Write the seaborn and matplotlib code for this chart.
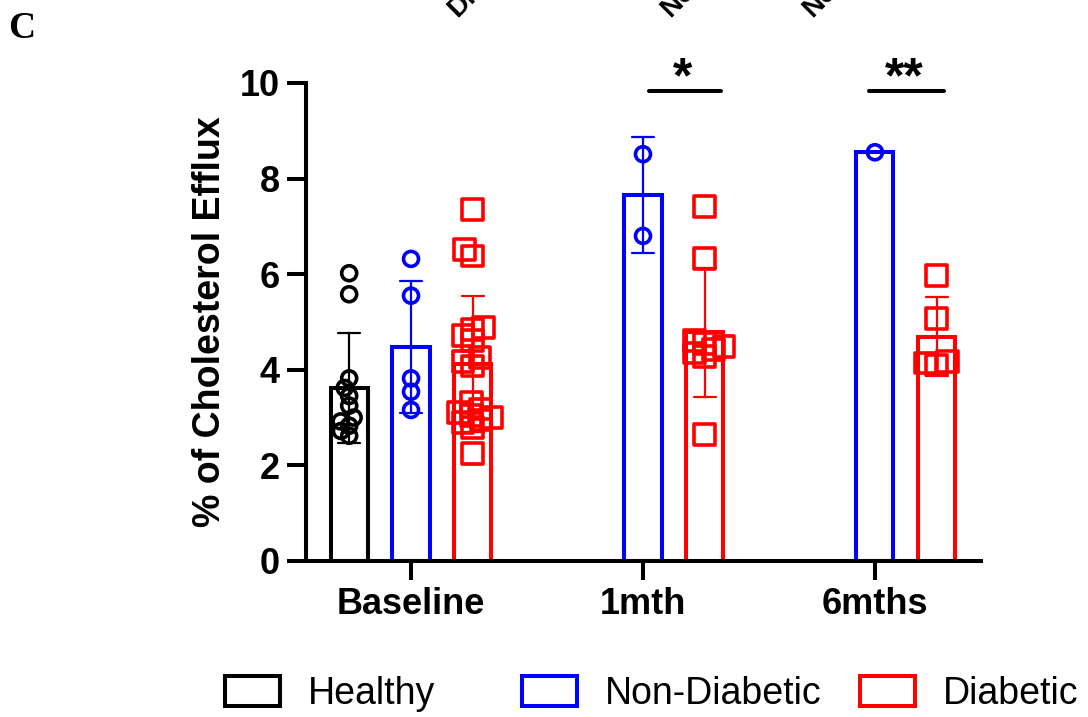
import matplotlib
matplotlib.use('Agg')
from matplotlib import pyplot as plt
from matplotlib.patches import Rectangle
from matplotlib.markers import MarkerStyle
import seaborn as sns
import pandas as pd

timepoints = ['Baseline', '1mth', '6mths']
groups = ['Healthy', 'Non-Diabetic', 'Diabetic']
colors = ['#000000', '#0000ff', '#ff0000']

# % cholesterol efflux per subject
healthy_baseline = [6.02, 5.58, 3.82, 3.62, 3.45, 3.25, 3.00, 2.92, 2.83, 2.72, 2.62]
nondiab_baseline = [6.32, 5.55, 3.82, 3.54, 3.16]
nondiab_1mth = [8.51, 6.80]
nondiab_6mths = [8.55]
diab_baseline = [7.36, 6.52, 6.38, 4.88, 4.85, 4.72, 4.62, 4.25, 4.18, 4.08,
                 3.32, 3.18, 3.10, 3.05, 3.00, 2.95, 2.90, 2.80, 2.25]
diab_1mth = [7.42, 6.32, 4.62, 4.55, 4.48, 4.42, 4.35, 4.28, 2.65]
diab_6mths = [5.98, 5.08, 4.18, 4.14, 4.10]

significance = [('1mth', '*'), ('6mths', '**')]
top_labels = ['Diabetic', 'Non-Diabetic', 'Non-Diabetic']


def make_frame():
    rows = []
    for group, time, vals in [
        ('Healthy', 'Baseline', healthy_baseline),
        ('Non-Diabetic', 'Baseline', nondiab_baseline),
        ('Non-Diabetic', '1mth', nondiab_1mth),
        ('Non-Diabetic', '6mths', nondiab_6mths),
        ('Diabetic', 'Baseline', diab_baseline),
        ('Diabetic', '1mth', diab_1mth),
        ('Diabetic', '6mths', diab_6mths),
    ]:
        for v in vals:
            rows.append({'group': group, 'time': time, 'efflux': v})
    return pd.DataFrame(rows)


def open_markers(colls, marker, scale, lw):
    # swarm is laid out with small markers so points overlap like in Prism,
    # then the marker path itself is scaled up
    m = MarkerStyle(marker)
    path = m.get_path().transformed(m.get_transform().scale(scale))
    for coll in colls:
        fc = coll.get_facecolor()
        coll.set_paths([path])
        coll.set_edgecolor(fc)
        coll.set_facecolor('none')
        coll.set_linewidth(lw)


df = make_frame()

sns.set_style('ticks')
plt.rcParams['font.family'] = ['Liberation Sans', 'DejaVu Sans']
plt.rcParams['text.color'] = 'black'
plt.rcParams['axes.labelcolor'] = 'black'
plt.rcParams['xtick.color'] = 'black'
plt.rcParams['ytick.color'] = 'black'
plt.rcParams['axes.edgecolor'] = 'black'

fig = plt.figure(figsize=(10.88, 7.17), dpi=100)
ax = fig.add_axes([0.2812, 0.2176, 0.6204, 0.6667])

sns.barplot(data=df, x='time', y='efflux', hue='group', order=timepoints,
            hue_order=groups, palette=colors, fill=False, linewidth=2.9,
            width=0.8, gap=0.4, errorbar='sd', capsize=0.29,
            err_kws={'linewidth': 1.6}, legend=False, ax=ax)

# open circles for Healthy / Non-Diabetic, open squares for Diabetic
n0 = len(ax.collections)
sns.swarmplot(data=df[df['group'] != 'Diabetic'], x='time', y='efflux',
              hue='group', order=timepoints, hue_order=groups, palette=colors,
              dodge=True, marker='o', size=4, linewidth=1.7, legend=False, ax=ax)
n1 = len(ax.collections)
sns.swarmplot(data=df[df['group'] == 'Diabetic'], x='time', y='efflux',
              hue='group', order=timepoints, hue_order=groups, palette=colors,
              dodge=True, marker='s', size=5, linewidth=1.7, legend=False, ax=ax)
open_markers(ax.collections[n0:n1], 'o', 2.7, 2.6)
open_markers(ax.collections[n1:], 's', 3.0, 2.6)

ax.set_xlim(-0.453, 2.457)
ax.set_ylim(0, 10)
ax.set_yticks([0, 2, 4, 6, 8, 10])
ax.set_xlabel('')
ax.set_ylabel('% of Cholesterol Efflux', fontsize=27, fontweight='bold', labelpad=8)
sns.despine(ax=ax)
for side in ['left', 'bottom']:
    ax.spines[side].set_linewidth(2.9)
ax.tick_params(width=2.9, length=14, labelsize=26, pad=5, colors='black')
for lab in ax.get_xticklabels() + ax.get_yticklabels():
    lab.set_fontweight('bold')

# significance brackets
bracket_span = {'1mth': (1.026, 1.336), '6mths': (1.974, 2.297)}
for time, stars in significance:
    x0, x1 = bracket_span[time]
    ax.plot([x0, x1], [9.84, 9.84], color='black', linewidth=2.9,
            solid_capstyle='round', clip_on=False)
    ax.text((x0 + x1) / 2 - 0.01, 9.8, stars, ha='center', va='baseline',
            fontsize=36, fontweight='bold', clip_on=False)

# panel letter and cropped header labels
fig.text(0.0074, 0.947, 'C', fontsize=27, fontweight='bold',
         family='Liberation Serif', ha='left', va='baseline')
for xpos, label in zip([0.42, 0.616, 0.746], top_labels):
    fig.text(xpos, 0.975, label, fontsize=20, fontweight='bold', rotation=45,
             rotation_mode='anchor', ha='left', va='baseline')

# legend, one entry per item as in the original layout
legend_x = [0.2065, 0.4795, 0.7905]
for x, group, col in zip(legend_x, groups, colors):
    handle = Rectangle((0, 0), 1, 1, facecolor='none', edgecolor=col, linewidth=2.9)
    fig.legend(handles=[handle], labels=[group], loc='center left',
               bbox_to_anchor=(x, 0.032), frameon=False, fontsize=27,
               handlelength=1.47, handleheight=0.85, handletextpad=0.75,
               borderaxespad=0, borderpad=0)

fig.savefig('out.png', dpi=100)
